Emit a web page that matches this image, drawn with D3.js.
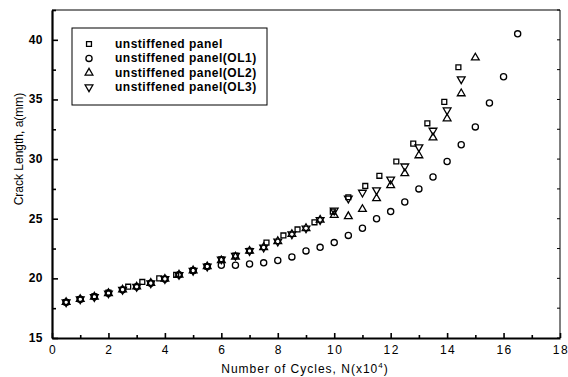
<!DOCTYPE html>
<html>
<head>
<meta charset="utf-8">
<script src="https://cdn.jsdelivr.net/npm/d3@7"></script>
<style>
  body { margin: 0; background: #fff; }
  text { font-family: "Liberation Sans", Arial, sans-serif; fill: #000; }
</style>
</head>
<body>
<svg id="chart"></svg>
<script>
const w = 568;
const h = 377;

// unstiffened panel (squares)
const sqX = [0.5, 1.0, 1.5, 2.0, 2.7, 3.2, 3.8, 4.4, 5.0, 5.5, 6.0, 6.5, 7.0, 7.6, 8.2, 8.7, 9.3, 9.95, 10.5, 11.1, 11.6, 12.2, 12.8, 13.3, 13.9, 14.4];
const sqY = [18.0, 18.25, 18.5, 18.8, 19.3, 19.7, 20.0, 20.3, 20.65, 21.0, 21.6, 21.9, 22.3, 23.0, 23.6, 24.1, 24.7, 25.6, 26.8, 27.75, 28.6, 29.8, 31.3, 33.0, 34.8, 37.7];

// unstiffened panel(OL1) (circles)
const ol1X = [0.5, 1.0, 1.5, 2.0, 2.5, 3.0, 3.5, 4.0, 4.5, 5.0, 5.5, 6.0, 6.5, 7.0, 7.5, 8.0, 8.5, 9.0, 9.5, 10.0, 10.5, 11.0, 11.5, 12.0, 12.5, 13.0, 13.5, 14.0, 14.5, 15.0, 15.5, 16.0, 16.5];
const ol1Y = [18.0, 18.25, 18.45, 18.75, 19.05, 19.3, 19.6, 19.95, 20.3, 20.65, 21.0, 21.1, 21.1, 21.2, 21.3, 21.5, 21.8, 22.3, 22.6, 23.0, 23.6, 24.2, 25.0, 25.6, 26.4, 27.5, 28.5, 29.8, 31.2, 32.7, 34.7, 36.9, 40.5];

// unstiffened panel(OL2) (triangles)
const ol2X = [0.5, 1.0, 1.5, 2.0, 2.5, 3.0, 3.5, 4.0, 4.5, 5.0, 5.5, 6.0, 6.5, 7.0, 7.5, 8.0, 8.5, 9.0, 9.5, 10.0, 10.5, 11.0, 11.5, 12.0, 12.5, 13.0, 13.5, 14.0, 14.5, 15.0];
const ol2Y = [18.0, 18.25, 18.45, 18.75, 19.05, 19.3, 19.6, 19.95, 20.3, 20.65, 21.0, 21.5, 21.8, 22.3, 22.6, 23.1, 23.7, 24.2, 24.9, 25.3, 25.2, 25.8, 26.7, 27.8, 28.8, 30.3, 31.8, 33.4, 35.5, 38.5];

// unstiffened panel(OL3) (inverted triangles)
const ol3X = [0.5, 1.0, 1.5, 2.0, 2.5, 3.0, 3.5, 4.0, 4.5, 5.0, 5.5, 6.0, 6.5, 7.0, 7.5, 8.0, 8.5, 9.0, 9.5, 10.0, 10.5, 11.0, 11.5, 12.0, 12.5, 13.0, 13.5, 14.0, 14.5];
const ol3Y = [18.0, 18.25, 18.45, 18.75, 19.05, 19.3, 19.6, 19.95, 20.3, 20.65, 21.0, 21.6, 21.9, 22.3, 22.6, 23.1, 23.7, 24.2, 24.9, 25.7, 26.7, 27.2, 27.4, 28.3, 29.4, 31.0, 32.4, 34.1, 36.7];

const legendLabels = ["unstiffened panel", "unstiffened panel(OL1)", "unstiffened panel(OL2)", "unstiffened panel(OL3)"];
const xTicks = [0, 2, 4, 6, 8, 10, 12, 14, 16, 18];
const yTicks = [15, 20, 25, 30, 35, 40];

const padL = 52, padR = 560, padT = 10, padB = 338;

const chart = d3.select("#chart")
  .attr("width", w)
  .attr("height", h);

const xScale = d3.scaleLinear().domain([0, 18]).range([padL, padR]);
const yScale = d3.scaleLinear().domain([15, 42.5]).range([padB, padT]);

const shapes = [
  d3.symbol().type(d3.symbolSquare).size(24),
  d3.symbol().type(d3.symbolCircle).size(30),
  d3.symbol().type(d3.symbolTriangle).size(26),
  d3.symbol().type(d3.symbolTriangle).size(26)
];
const rot = [0, 0, 0, 180];

const series = [
  { xs: sqX, ys: sqY },
  { xs: ol1X, ys: ol1Y },
  { xs: ol2X, ys: ol2Y },
  { xs: ol3X, ys: ol3Y }
];

// frame: thin top / right
chart.append("line")
  .attr("x1", padL).attr("x2", padR).attr("y1", padT).attr("y2", padT)
  .attr("stroke", "#000").attr("stroke-width", 1);
chart.append("line")
  .attr("x1", padR).attr("x2", padR).attr("y1", padT).attr("y2", padB)
  .attr("stroke", "#000").attr("stroke-width", 1);

// x axis (ticks inward)
const xAxis = d3.axisBottom(xScale)
  .tickValues(d3.range(0, 19, 1))
  .tickSize(0)
  .tickFormat("");
chart.append("g")
  .attr("id", "x-axis")
  .attr("transform", `translate(0, ${padB})`)
  .call(xAxis)
  .call(g => g.select(".domain").attr("stroke-width", 2.2))
  .call(g => g.selectAll(".tick line")
    .attr("y2", d => d % 2 === 0 ? -5 : -3)
    .attr("stroke-width", 1.6));

chart.append("g")
  .selectAll("text")
  .data(xTicks)
  .join("text")
  .attr("x", d => xScale(d) + 1)
  .attr("y", 354)
  .attr("text-anchor", "middle")
  .attr("font-size", 12)
  .attr("letter-spacing", 1.5)
  .text(d => d);

// y axis (ticks inward)
const yAxis = d3.axisLeft(yScale)
  .tickValues(d3.range(15, 42.6, 2.5))
  .tickSize(0)
  .tickFormat("");
chart.append("g")
  .attr("id", "y-axis")
  .attr("transform", `translate(${padL}, 0)`)
  .call(yAxis)
  .call(g => g.select(".domain").attr("stroke-width", 2.2))
  .call(g => g.selectAll(".tick line")
    .attr("x2", d => d % 5 === 0 ? 6 : 4)
    .attr("stroke-width", 1.6));

chart.append("g")
  .selectAll("text")
  .data(yTicks)
  .join("text")
  .attr("x", 43)
  .attr("y", d => yScale(d) + 4)
  .attr("text-anchor", "end")
  .attr("font-size", 12)
  .attr("font-weight", "bold")
  .attr("letter-spacing", 0.5)
  .text(d => d);

// right axis small ticks
chart.append("g")
  .selectAll("line")
  .data(d3.range(15, 42.6, 2.5))
  .join("line")
  .attr("x1", padR).attr("x2", padR - 3)
  .attr("y1", d => yScale(d)).attr("y2", d => yScale(d))
  .attr("stroke", "#000").attr("stroke-width", 1);

// axis titles
chart.append("text")
  .attr("transform", "translate(23, 149) rotate(-90)")
  .attr("text-anchor", "middle")
  .attr("font-size", 12)
  .text("Crack Length, a(mm)");

const xt = chart.append("text")
  .attr("x", 305)
  .attr("y", 373)
  .attr("text-anchor", "middle")
  .attr("font-size", 12)
  .attr("letter-spacing", 1);
xt.append("tspan").text("Number of Cycles, N(x10");
xt.append("tspan").attr("dy", -5).attr("font-size", 8).text("4");
xt.append("tspan").attr("dy", 5).text(")");

// points
series.forEach((s, i) => {
  chart.append("g")
    .selectAll("path")
    .data(s.xs.map((x, j) => [x, s.ys[j]]))
    .join("path")
    .attr("d", shapes[i])
    .attr("transform", d => `translate(${xScale(d[0])}, ${yScale(d[1])}) rotate(${rot[i]})`)
    .attr("fill", "none")
    .attr("stroke", "#000")
    .attr("stroke-width", 1.3);
});

// legend
const legend = chart.append("g");
legend.append("rect")
  .attr("x", 72).attr("y", 28)
  .attr("width", 195).attr("height", 77)
  .attr("fill", "#fff")
  .attr("stroke", "#000")
  .attr("stroke-width", 1);

legendLabels.forEach((lab, i) => {
  const ly = 44 + i * 14.4;
  legend.append("path")
    .attr("d", shapes[i])
    .attr("transform", `translate(89, ${ly}) rotate(${rot[i]})`)
    .attr("fill", "none")
    .attr("stroke", "#000")
    .attr("stroke-width", 1.3);
  legend.append("text")
    .attr("x", 115)
    .attr("y", ly + 4)
    .attr("font-size", 12)
    .attr("font-weight", "bold")
    .attr("letter-spacing", 0.5)
    .text(lab);
});
</script>
</body>
</html>
